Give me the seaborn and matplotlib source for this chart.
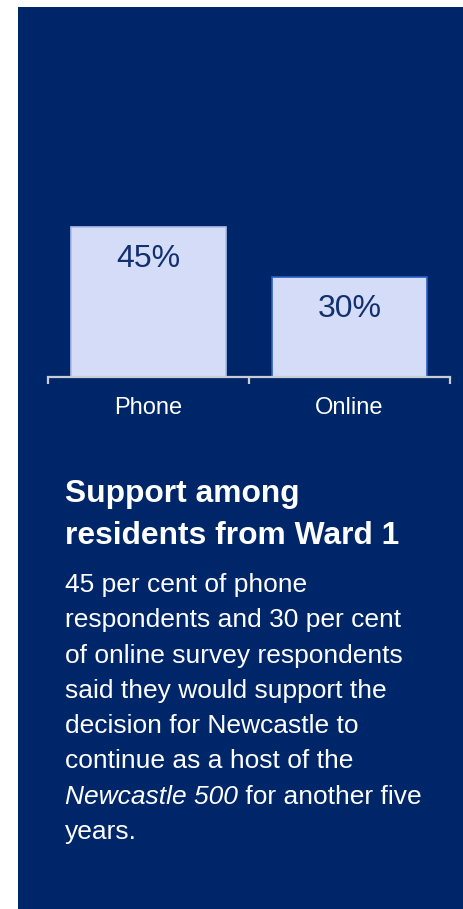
import matplotlib
matplotlib.use("Agg")
import matplotlib.pyplot as plt
from matplotlib.patches import Rectangle
from matplotlib.ticker import FixedLocator
import seaborn as sns
import pandas as pd

# Survey results
channels = ["Phone", "Online"]
support_pct = [45, 30]
value_labels = ["45%", "30%"]

title_lines = ["Support among", "residents from Ward 1"]
body_lines = [
    "45 per cent of phone",
    "respondents and 30 per cent",
    "of online survey respondents",
    "said they would support the",
    "decision for Newcastle to",
    "continue as a host of the",
    None,  # mixed italic line, drawn separately
    "years.",
]
italic_part = "Newcastle 500"
after_italic = " for another five"

NAVY = "#00266A"
BAR_FILL = "#D4DCF8"
LABEL_NAVY = "#12306F"
AXIS_GREY = "#C9CCD3"

sns.set_theme(style="white")
plt.rcParams["font.family"] = ["Liberation Sans", "DejaVu Sans"]

W, H = 464, 909
fig = plt.figure(figsize=(W / 100, H / 100), dpi=100, facecolor="white")

def fx(px):
    return px / W

def fy(py):
    return 1 - py / H

# navy card behind everything, running off the right and bottom edges
fig.patches.append(Rectangle((fx(18), -0.02), 1.0, fy(7) + 0.02, transform=fig.transFigure,
                             facecolor=NAVY, edgecolor="none", zorder=-5))

ax = fig.add_axes([fx(48), fy(377), fx(450) - fx(48), (377 - 177) / H])
ax.set_facecolor("none")
ax.set_zorder(2)

df = pd.DataFrame({"channel": channels, "support": support_pct})
sns.barplot(data=df, x="channel", y="support", color=BAR_FILL, width=0.776,
            saturation=1, ax=ax, zorder=2)

edge_colors = ["#AFBDEB", "#2A5CC8"]
for patch, ec in zip(ax.patches, edge_colors):
    patch.set_facecolor(BAR_FILL)
    patch.set_edgecolor(ec)
    patch.set_linewidth(1.2)

for i, (v, lab) in enumerate(zip(support_pct, value_labels)):
    ax.annotate(lab, xy=(i, v), xytext=(0, -22.5), textcoords="offset points",
                ha="center", va="center", fontsize=23, color=LABEL_NAVY, zorder=3)

ax.set_xlim(-0.5, 1.5)
ax.set_ylim(0, 60.2)
ax.set_xlabel("")
ax.set_ylabel("")
ax.set_yticks([])
for side in ["top", "right", "left"]:
    ax.spines[side].set_visible(False)
ax.spines["bottom"].set_color(AXIS_GREY)
ax.spines["bottom"].set_linewidth(1.6)
ax.spines["bottom"].set_zorder(4)

ax.xaxis.set_minor_locator(FixedLocator([-0.5, 0.5, 1.5]))
ax.tick_params(axis="x", which="minor", bottom=True, length=5, width=1.6, color=AXIS_GREY)
ax.tick_params(axis="x", which="major", bottom=True, length=0, pad=14.5,
               labelsize=17, labelcolor="white")

# headline
title_base = [502, 544]
for line, py in zip(title_lines, title_base):
    fig.text(fx(65), fy(py), line, fontsize=22.9, fontweight="bold", color="white",
             ha="left", va="baseline")

# paragraph
first_base = 592
step = 35.3
renderer = fig.canvas.get_renderer()
for k, line in enumerate(body_lines):
    py = first_base + k * step
    if line is None:
        t = fig.text(fx(65), fy(py), italic_part, fontsize=19, style="italic",
                     color="white", ha="left", va="baseline")
        bb = t.get_window_extent(renderer=renderer)
        fig.text(bb.x1 / W, fy(py), after_italic, fontsize=19, color="white",
                 ha="left", va="baseline")
    else:
        fig.text(fx(65), fy(py), line, fontsize=19, color="white",
                 ha="left", va="baseline")

fig.savefig("out.png", dpi=100, facecolor="white")
